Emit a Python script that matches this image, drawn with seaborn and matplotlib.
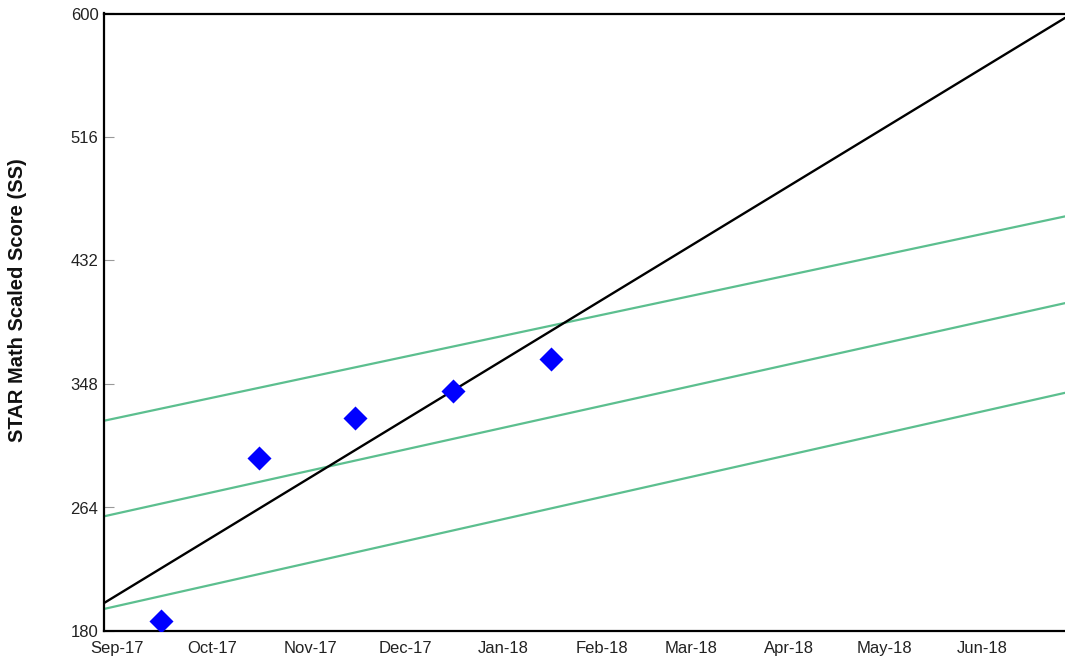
import matplotlib
matplotlib.use("Agg")
import matplotlib.pyplot as plt
import matplotlib.dates as mdates
import seaborn as sns
import pandas as pd

# ---- data ----
score_dates = ["2017-09-15", "2017-10-16", "2017-11-15", "2017-12-16", "2018-01-16"]
score_values = [187, 298, 325, 343, 365]

line_dates = ["2017-08-28", "2018-06-27"]          # chart start / end
goal_line = [199, 597]
green_top = [323, 462]
green_mid = [258, 403]
green_low = [195, 342]

y_ticks = [180, 264, 348, 432, 516, 600]
x_tick_months = ["2017-09-01", "2017-10-01", "2017-11-01", "2017-12-01", "2018-01-01",
                 "2018-02-01", "2018-03-01", "2018-04-01", "2018-05-01", "2018-06-01"]
y_label = "STAR Math Scaled Score (SS)"

# ---- figure ----
sns.set_style("white")
plt.rcParams['font.family'] = ['Liberation Sans', 'DejaVu Sans']

fig = plt.figure(figsize=(10.65, 6.62), dpi=100)
ax = fig.add_axes([104 / 1065, 31 / 662, 961 / 1065, 617.5 / 662])

ld = pd.to_datetime(line_dates)
green = "#5cbf8f"
for vals in (green_top, green_mid, green_low):
    sns.lineplot(x=ld, y=vals, ax=ax, color=green, linewidth=1.6)
sns.lineplot(x=ld, y=goal_line, ax=ax, color="black", linewidth=1.7)

sd = pd.to_datetime(score_dates)
sns.scatterplot(x=sd, y=score_values, ax=ax, marker="D", s=150, color="#0000ff",
                linewidth=0, zorder=5)

ax.set_xlim(ld[0], ld[-1])
ax.set_ylim(180, 600)
ax.set_yticks(y_ticks)
ax.set_xticks(pd.to_datetime(x_tick_months))
ax.xaxis.set_major_formatter(mdates.DateFormatter("%b-%y"))

ax.tick_params(axis="y", direction="in", length=7, width=0.8, color="#999999",
               labelsize=12, pad=4, labelcolor="#222222", left=True)
ax.tick_params(axis="x", length=0, labelsize=12, pad=7, labelcolor="#222222")

for side in ("left", "top", "bottom"):
    ax.spines[side].set_color("black")
    ax.spines[side].set_linewidth(1.6)
ax.spines["right"].set_visible(False)

ax.set_xlabel("")
ax.set_ylabel("")
fig.text(18 / 1065, 1 - 300 / 662, y_label, rotation=90, ha="center", va="center",
         fontsize=14.5, fontweight="bold", color="#111111")

fig.savefig("out.png", dpi=100)
